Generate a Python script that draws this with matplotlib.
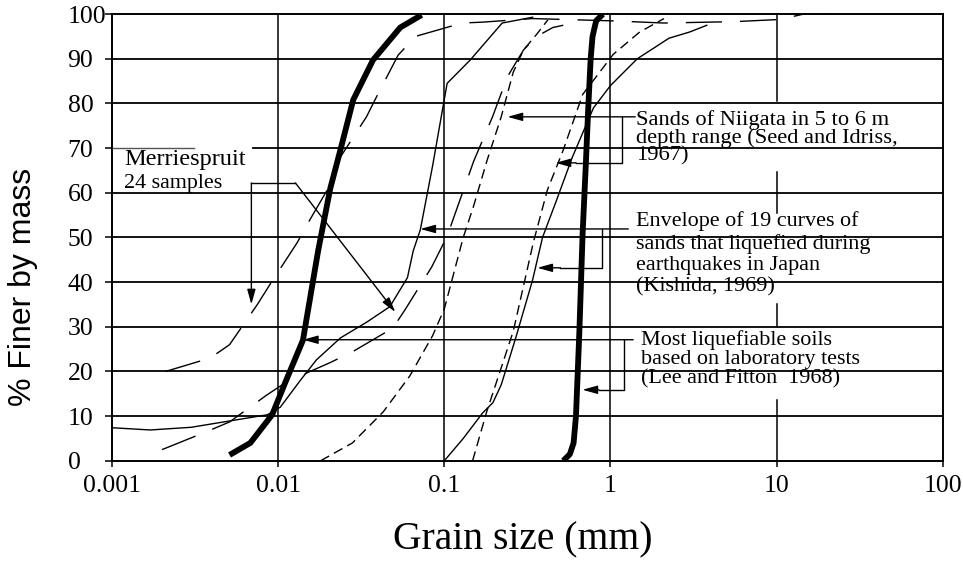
import numpy as np
import matplotlib
matplotlib.use("Agg")
import matplotlib.pyplot as plt

# grain size curves (x in mm, y in % finer)
lf_lo_x = [0.0051, 0.0068, 0.0092, 0.011, 0.0141, 0.0174, 0.0206, 0.0237, 0.0283, 0.0372, 0.0543, 0.073]
lf_lo_y = [1.3, 4, 10.3, 17.4, 27, 47, 61, 69.6, 80.8, 89.7, 97, 99.8]

lf_hi_x = [0.52, 0.57, 0.6, 0.62, 0.65, 0.68, 0.71, 0.735, 0.76, 0.78, 0.82, 0.9]
lf_hi_y = [0, 1.5, 4, 10, 29, 51, 66, 79, 90, 95, 98.5, 100]

kis_lo_x = [0.001, 0.0017, 0.003, 0.0047, 0.0086, 0.0103, 0.0136, 0.017, 0.0237, 0.034, 0.047,
            0.06, 0.065, 0.0717, 0.085, 0.099, 0.104, 0.143, 0.223, 0.34]
kis_lo_y = [7.4, 6.9, 7.5, 8.7, 10.3, 12, 18, 22.6, 27.5, 31, 34.5,
            41, 47, 51.7, 66, 80, 84.5, 89.7, 98, 99.3]

kis_hi_x = [0.1, 0.13, 0.17, 0.196, 0.22, 0.27, 0.34, 0.39, 0.47, 0.59, 0.79, 1.0, 1.45, 2.25, 3.0, 3.8]
kis_hi_y = [0, 5, 10.7, 13, 17, 27.7, 40.5, 50, 58, 68, 79, 84, 90, 94.6, 96, 97.5]

nii_lo_x = [0.018, 0.028, 0.043, 0.062, 0.085, 0.1, 0.13, 0.15, 0.18, 0.22, 0.26, 0.3, 0.36, 0.42]
nii_lo_y = [0, 4, 11, 19, 28, 34, 50, 57, 67, 77, 87, 92, 95.5, 98.7]

nii_hi_x = [0.148, 0.18, 0.26, 0.344, 0.417, 0.52, 0.68, 1.04, 1.5, 2.1]
nii_hi_y = [0, 11, 29, 49, 60.6, 69.6, 82, 91, 96, 99]

mer_a_x = [0.0021, 0.0039, 0.0051, 0.0075, 0.0089, 0.013, 0.015, 0.0215, 0.0237, 0.034, 0.039,
           0.0527, 0.067, 0.128, 0.17, 0.34, 1.0, 2.1, 3.9, 5.5, 10.5, 14.5, 20]
mer_a_y = [20, 23, 26, 35, 39.4, 48.8, 53, 63, 68, 77, 81.4,
           90.8, 95, 98, 98.2, 99, 98.5, 98, 98.2, 98.3, 98.8, 100, 100]

mer_b_x = [0.002, 0.0037, 0.0051, 0.0086, 0.0113, 0.0206, 0.028, 0.049, 0.058, 0.084, 0.1,
           0.108, 0.15, 0.195, 0.24, 0.3, 0.36, 0.45, 0.52]
mer_b_y = [2.5, 6.5, 8.7, 14.8, 17.7, 22, 24.4, 29.7, 33.8, 43.4, 49,
           52, 67, 77, 86, 92, 95, 97, 97.5]

x_ticks = [0.001, 0.01, 0.1, 1, 10, 100]
x_labels = ["0.001", "0.01", "0.1", "1", "10", "100"]
y_ticks = list(range(0, 101, 10))

serif = "Liberation Serif"

fig = plt.figure(figsize=(9.63, 5.64), dpi=100)
ax = fig.add_axes([0.1163, 0.183, 0.8627, 0.792])
ax.set_xscale("log")
ax.set_xlim(0.001, 100)
ax.set_ylim(0, 100)

# grid lines drawn by hand (the 10 mm line is broken by the notes)
for yv in range(10, 100, 10):
    if yv == 70:
        ax.plot([0.001, 0.0031], [yv, yv], color="#555555", lw=1.0, zorder=1)
        ax.plot([0.0071, 100], [yv, yv], color="black", lw=1.3, zorder=1)
    else:
        ax.axhline(yv, color="black", lw=1.3, zorder=1)
for xv in [0.01, 0.1, 1]:
    ax.axvline(xv, color="black", lw=1.1, zorder=1)
for y0, y1 in [(0, 13.7), (30.2, 35.0), (55.5, 64.6), (80.5, 100)]:
    ax.plot([10, 10], [y0, y1], color="black", lw=1.1, zorder=1)

# curves
ax.plot(lf_lo_x, lf_lo_y, color="black", lw=4.2, solid_capstyle="butt", zorder=3)
ax.plot(lf_hi_x, lf_hi_y, color="black", lw=4.2, solid_capstyle="butt", zorder=3)
ax.plot(kis_lo_x, kis_lo_y, color="black", lw=1.0, zorder=3)
ax.plot(kis_hi_x, kis_hi_y, color="black", lw=1.0, zorder=3)
ax.plot(nii_lo_x, nii_lo_y, color="black", lw=1.0, ls=(0, (7, 4)), zorder=3)
ax.plot(nii_hi_x, nii_hi_y, color="black", lw=1.0, ls=(0, (7, 4)), zorder=3)
ax.plot(mer_a_x, mer_a_y, color="black", lw=1.0, ls=(0, (26, 13)), zorder=3)
ax.plot(mer_b_x, mer_b_y, color="black", lw=1.0, ls=(0, (26, 13)), zorder=3)

arrow = dict(arrowstyle="-|>,head_length=0.9,head_width=0.25", color="black", lw=1.0,
             shrinkA=0, shrinkB=0)


def pointer(x_from, y_from, x_to, y_to):
    ax.annotate("", xy=(x_to, y_to), xytext=(x_from, y_from), arrowprops=arrow, zorder=4)


# Merriespruit
ax.text(0.00118, 69.8, "Merriespruit", family=serif, fontsize=17.5, va="top", zorder=5)
ax.text(0.00118, 64.2, "24 samples", family=serif, fontsize=15.8, va="top", zorder=5)
ax.plot([0.0069, 0.0127], [62.2, 62.2], color="black", lw=1.0, zorder=4)
pointer(0.0127, 62.2, 0.0507, 33.3)
pointer(0.0069, 62.2, 0.0069, 35.0)

# Niigata
ax.text(1.43, 78.6, "Sands of Niigata in 5 to 6 m\ndepth range (Seed and Idriss,\n1967)",
        family=serif, fontsize=16.2, va="top", linespacing=0.9, zorder=5)
pointer(1.41, 77, 0.24, 77)
ax.plot([1.18, 1.18, 0.62], [77, 66.7, 66.7], color="black", lw=1.0, zorder=4)
pointer(0.62, 66.7, 0.467, 66.7)

# Kishida
ax.text(1.43, 55.8, "Envelope of 19 curves of\nsands that liquefied during\nearthquakes in Japan\n(Kishida, 1969)",
        family=serif, fontsize=15.9, va="top", linespacing=1.16, zorder=5)
pointer(1.28, 51.9, 0.0717, 51.9)
ax.plot([0.895, 0.895, 0.5], [51.9, 43.2, 43.2], color="black", lw=1.0, zorder=4)
pointer(0.5, 43.2, 0.363, 43.2)

# Lee and Fitton
ax.text(1.53, 29.2, "Most liquefiable soils\nbased on laboratory tests\n(Lee and Fitton  1968)",
        family=serif, fontsize=15.9, va="top", linespacing=0.99, zorder=5)
pointer(1.37, 27.1, 0.0141, 27.1)
ax.plot([1.2, 1.2, 0.85], [27.1, 15.9, 15.9], color="black", lw=1.0, zorder=4)
pointer(0.85, 15.9, 0.678, 15.9)

# axes
ax.set_xticks(x_ticks)
ax.set_xticklabels(x_labels, family=serif, fontsize=18.5)
ax.xaxis.set_minor_locator(matplotlib.ticker.NullLocator())
ax.set_yticks(y_ticks)
ax.set_yticklabels([str(v) for v in y_ticks], family=serif, fontsize=18.5)
for lab in ax.get_yticklabels():
    lab.set_horizontalalignment("left")
ax.tick_params(axis="x", direction="out", length=4, width=1.1, pad=6)
ax.tick_params(axis="y", direction="out", length=5, width=1.1, pad=27)
for sp in ax.spines.values():
    sp.set_linewidth(1.4)

fig.text(0.543, 0.025, "Grain size (mm)", family=serif, fontsize=28.5, ha="center", va="baseline")
fig.text(0.024, 0.491, "% Finer by mass", family="Liberation Sans", fontsize=23, rotation=90,
         ha="center", va="center")

fig.savefig("out.png", dpi=100)
